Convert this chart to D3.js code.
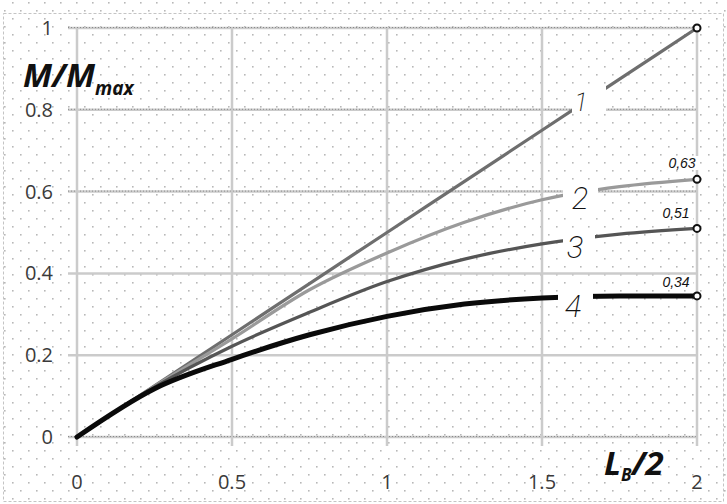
<!DOCTYPE html>
<html>
<head>
<meta charset="utf-8">
<script src="https://cdn.jsdelivr.net/npm/d3@7"></script>
<style>
  body { margin: 0; background: #fff; }
  .tick-label { font-family: "Open Sans", "Liberation Sans", sans-serif; font-size: 20px; fill: #3a3a3a; }
  .axis-title { font-family: "Open Sans", "Liberation Sans", sans-serif; font-weight: bold; font-style: italic; fill: #111; }
  .curve-label { font-family: "DejaVu Sans ExtraLight", "Roboto", sans-serif; font-weight: 200; font-style: italic; fill: #111; }
  .value-label { font-family: "Liberation Sans Narrow", "Liberation Sans", sans-serif; font-style: italic; font-size: 14px; fill: #111; }
</style>
</head>
<body>
<div id="chart"></div>
<script>
// data
const xValues = [0, 0.25, 0.5, 0.75, 1, 1.25, 1.5, 1.75, 2];
const curve1 = [0, 0.125, 0.25, 0.375, 0.5, 0.625, 0.75, 0.875, 1];
const curve2 = [0, 0.124, 0.24, 0.36, 0.45, 0.525, 0.58, 0.612, 0.63];
const curve3 = [0, 0.122, 0.222, 0.305, 0.38, 0.435, 0.472, 0.496, 0.51];
const curve4 = [0, 0.118, 0.19, 0.25, 0.295, 0.325, 0.34, 0.345, 0.345];
const curveNames = ["1", "2", "3", "4"];
const endLabels = ["", "0,63", "0,51", "0,34"];
const xTicks = [0, 0.5, 1, 1.5, 2];
const yTicks = [0, 0.2, 0.4, 0.6, 0.8, 1];

const width = 727, height = 504;

const svg = d3.select("#chart")
    .append("svg")
    .attr("width", width)
    .attr("height", height);

const x = d3.scaleLinear().domain([0, 2]).range([77, 697]);
const y = d3.scaleLinear().domain([0, 1]).range([437, 28]);

// dotted background (excel pattern fill)
const defs = svg.append("defs");
const pat = defs.append("pattern")
    .attr("id", "dots")
    .attr("patternUnits", "userSpaceOnUse")
    .attr("width", 16)
    .attr("height", 16);
pat.append("rect").attr("x", 4).attr("y", 10).attr("width", 1.6).attr("height", 1.6).attr("fill", "#b8b8b8");
pat.append("rect").attr("x", 12).attr("y", 2).attr("width", 1.6).attr("height", 1.6).attr("fill", "#b8b8b8");

svg.append("rect").attr("width", width).attr("height", height).attr("fill", "#fff");
svg.append("rect").attr("width", width).attr("height", height).attr("fill", "url(#dots)");

// chart area border
svg.append("rect")
    .attr("x", 3.5).attr("y", 13.5)
    .attr("width", 720).attr("height", 488)
    .attr("fill", "none")
    .attr("stroke", "#c4c4c4")
    .attr("stroke-dasharray", "3,2");

// grid lines
const grid = svg.append("g");
grid.selectAll(".hgrid")
    .data(yTicks)
    .join("line")
    .attr("x1", x(0) - 9).attr("x2", x(2))
    .attr("y1", d => y(d)).attr("y2", d => y(d))
    .attr("stroke", "#cbcbcb")
    .attr("stroke-width", 2.5);
grid.selectAll(".hgrid-dots")
    .data(yTicks.filter(d => d !== 0.2 && d !== 0.4))
    .join("line")
    .attr("x1", x(0) - 9).attr("x2", x(2))
    .attr("y1", d => y(d) - 0.5).attr("y2", d => y(d) - 0.5)
    .attr("stroke", "#8a8a8a")
    .attr("stroke-width", 1)
    .attr("stroke-dasharray", "1,2");
grid.selectAll(".vgrid")
    .data(xTicks)
    .join("line")
    .attr("x1", d => x(d)).attr("x2", d => x(d))
    .attr("y1", y(1)).attr("y2", y(0) + 9)
    .attr("stroke", "#cbcbcb")
    .attr("stroke-width", 2.5);

// tick labels
svg.append("g")
    .selectAll("text")
    .data(yTicks)
    .join("text")
    .attr("class", "tick-label")
    .attr("x", 53)
    .attr("y", d => y(d) + 7)
    .attr("text-anchor", "end")
    .text(d => d);
svg.append("g")
    .selectAll("text")
    .data(xTicks)
    .join("text")
    .attr("class", "tick-label")
    .attr("x", d => x(d))
    .attr("y", 489)
    .attr("text-anchor", "middle")
    .text(d => d);

// curves
const series = [curve1, curve2, curve3, curve4];
const strokes = ["#6e6e6e", "#9a9a9a", "#555555", "#0a0a0a"];
const widths = [3.2, 3.2, 3.2, 5];
const line = d3.line()
    .x(d => x(d[0]))
    .y(d => y(d[1]))
    .curve(d3.curveMonotoneX);

svg.append("g")
    .selectAll("path")
    .data(series)
    .join("path")
    .attr("fill", "none")
    .attr("stroke", (d, i) => strokes[i])
    .attr("stroke-width", (d, i) => widths[i])
    .attr("stroke-linecap", "round")
    .attr("d", d => line(xValues.map((v, i) => [v, d[i]])));

// end markers
svg.append("g")
    .selectAll("circle")
    .data(series)
    .join("circle")
    .attr("cx", x(2))
    .attr("cy", d => y(d[d.length - 1]))
    .attr("r", 3.5)
    .attr("fill", "#fff")
    .attr("stroke", "#111")
    .attr("stroke-width", 2);

// white boxes that cut the curves for their labels
const labelBoxes = [
    { x0: 572, x1: 606, y0: 84, y1: 114 },
    { x0: 563, x1: 598, y0: 180, y1: 213 },
    { x0: 563, x1: 595, y0: 229, y1: 263 },
    { x0: 558, x1: 593, y0: 286, y1: 322 }
];
svg.append("g")
    .selectAll("rect")
    .data(labelBoxes)
    .join("rect")
    .attr("x", d => d.x0).attr("y", d => d.y0)
    .attr("width", d => d.x1 - d.x0).attr("height", d => d.y1 - d.y0)
    .attr("fill", "#fff");

const curveLabelPos = [[581, 111, 25], [580, 209, 31], [575, 258, 31], [573, 317, 31]];
svg.append("g")
    .selectAll("text")
    .data(curveNames)
    .join("text")
    .attr("class", "curve-label")
    .attr("x", (d, i) => curveLabelPos[i][0])
    .attr("y", (d, i) => curveLabelPos[i][1])
    .attr("text-anchor", "middle")
    .style("font-size", (d, i) => curveLabelPos[i][2] + "px")
    .text(d => d);

// small value labels at the end points
const valuePos = [null, [682, 168], [676, 218], [676, 287]];
const vl = svg.append("g");
endLabels.forEach((t, i) => {
    if (!t) return;
    vl.append("rect")
        .attr("x", valuePos[i][0] - 17).attr("y", valuePos[i][1] - 12)
        .attr("width", 34).attr("height", 14)
        .attr("fill", "#fff");
    vl.append("text")
        .attr("class", "value-label")
        .attr("x", valuePos[i][0])
        .attr("y", valuePos[i][1])
        .attr("text-anchor", "middle")
        .text(t);
});

// axis titles
const yTitle = svg.append("text")
    .attr("class", "axis-title")
    .attr("x", 23)
    .attr("y", 87)
    .style("font-size", "33px");
yTitle.append("tspan").text("M/M");
yTitle.append("tspan").attr("dy", 8).style("font-size", "19px").text("max");

const xTitle = svg.append("text")
    .attr("class", "axis-title")
    .attr("x", 604)
    .attr("y", 475)
    .style("font-size", "33px");
xTitle.append("tspan").text("L");
xTitle.append("tspan").attr("dy", 6).style("font-size", "17px").text("B");
xTitle.append("tspan").attr("dy", -6).text("/2");
</script>
</body>
</html>
